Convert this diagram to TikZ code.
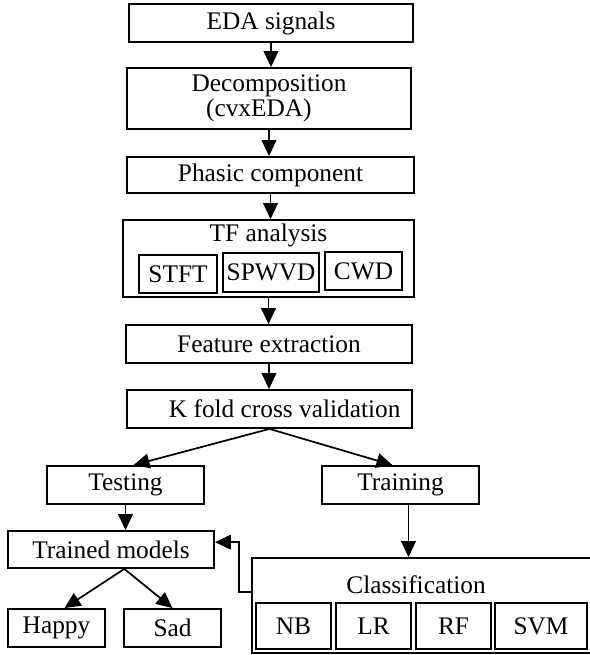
\documentclass[tikz,border=0pt]{standalone}
\usepackage{fontspec}
\setmainfont{Liberation Serif}
\usetikzlibrary{arrows.meta}

\tikzset{
  box/.style={draw, line width=1.35pt, inner sep=0pt, font=\fontsize{19}{21}\selectfont},
  inbox/.style={box, line width=1.1pt},
  sz/.style 2 args={minimum width=0.75*#1, minimum height=0.75*#2},
  txt/.style={inner sep=0pt, font=\fontsize{19}{21}\selectfont},
  arr/.style={-{Triangle[length=12pt,width=11pt]}, line width=1.3pt}
}

\begin{document}
\begin{tikzpicture}[x=0.75pt,y=-0.75pt]
    \useasboundingbox (0,0) rectangle (589,655);

    % main chain
    \node[box, sz={284}{38}] (eda) at (271,23) {EDA signals};
    \node[box, sz={284}{61}, align=center] (decomp) at (269,98.5)
        {Decomposition\\[-2.5pt](cvxEDA)\hspace*{0.8em}};
    \node[box, sz={287}{36}] (phasic) at (270.5,175) {Phasic component};

    \node[box, sz={291}{77}] (tf) at (268.5,258.5) {};
    \node[txt] (tflabel) at (268.5,235) {TF analysis};
    \node[inbox, sz={78}{38}] (stft) at (178,274) {STFT};
    \node[inbox, sz={96}{39}] (spwvd) at (271,272.5) {SPWVD};
    \node[inbox, sz={77}{38}] (cwd) at (363.5,271) {CWD};

    \node[box, sz={286}{38}] (feat) at (269,344) {Feature extraction};
    \node[box, sz={285}{38}] (kfold) at (269.5,409) {\hspace*{1.2em}K fold cross validation};

    \draw[arr] (eda) -- (eda |- decomp.north);
    \draw[arr] (decomp) -- (decomp |- phasic.north);
    \draw[arr] (phasic) -- (phasic |- tf.north);
    \draw[arr] (tf) -- (tf |- feat.north);
    \draw[arr] (feat) -- (feat |- kfold.north);

    % split
    \node[box, sz={157}{38}] (testing) at (125.5,485) {Testing};
    \node[box, sz={157}{38}] (training) at (400.5,485) {Training};
    \draw[arr] (kfold.south) -- ([xshift=6pt]testing.north);
    \draw[arr] (kfold.south) -- ([xshift=-6pt]training.north);

    % testing side
    \node[box, sz={206}{37}] (trained) at (111,549.5) {Trained models};
    \node[box, sz={97}{38}] (happy) at (56.5,628) {Happy};
    \node[box, sz={97}{38}] (sad) at (172.5,628) {Sad};
    \draw[arr] (testing) -- (testing |- trained.north);
    \draw[arr] ([xshift=10pt]trained.south) -- ([xshift=6pt]happy.north);
    \draw[arr] ([xshift=10pt]trained.south) -- (sad.north);

    % training side
    \node[box, sz={340}{95}] (class) at (422,605.5) {};
    \node[txt] (classlabel) at (416,585) {Classification};
    \node[inbox, sz={75}{46}] (nb) at (293.5,626) {NB};
    \node[inbox, sz={75}{46}] (lr) at (373.5,626) {LR};
    \node[inbox, sz={75}{46}] (rf) at (453.5,626) {RF};
    \node[inbox, sz={92}{46}] (svm) at (541,626) {SVM};

    \draw[arr] ([xshift=6pt]training.south) -- ([xshift=6pt]training.south |- class.north);
    \draw[arr] ([yshift=10pt]class.west) -- ++(-9pt,0) |- ([yshift=5.5pt]trained.east);

    %\draw[help lines] (0,0) grid[step=50] (589,655);
\end{tikzpicture}
\end{document}
